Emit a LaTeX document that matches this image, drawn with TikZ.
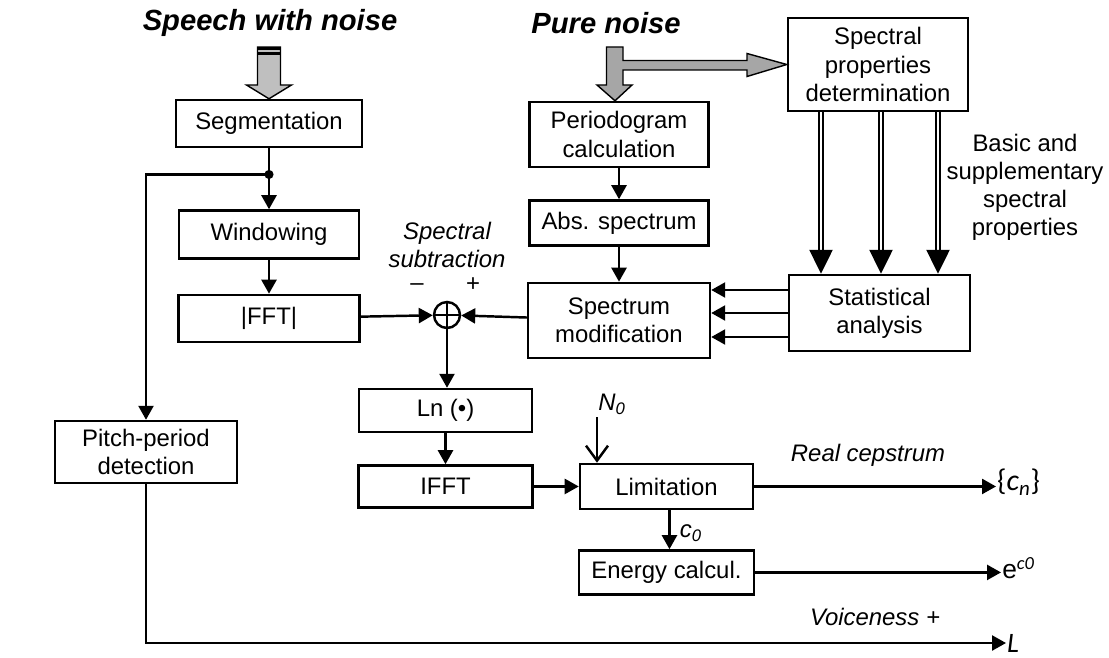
\documentclass[tikz,border=0pt]{standalone}
\usepackage{fontspec}
\setmainfont{Liberation Sans}
\newfontfamily\calfont{Carlito}
\usetikzlibrary{arrows.meta,positioning,calc}
\tikzset{
  >={Triangle[length=2.8mm, width=3mm]},
  blk/.style={draw, rectangle, align=center, inner sep=1pt, font=\fontsize{13.6}{16}\selectfont},
  lbl/.style={align=center, inner sep=1pt, font=\fontsize{13.6}{16}\selectfont\itshape},
  note/.style={align=center, inner sep=1pt, font=\fontsize{13.6}{16}\selectfont},
  title/.style={inner sep=1pt, font=\fontsize{16.6}{19}\selectfont\bfseries\itshape},
  sumnode/.style={draw, circle, minimum size=5.2mm, inner sep=0pt},
  fat/.style={draw, line width=0.8pt, line join=miter},
  dbl/.style={double, double distance=1pt, line width=1.2pt, shorten >=4.7mm},
  bighead/.style={-{Triangle[length=4.8mm, width=4.6mm]}},
  opentip/.style={-{Straight Barb[length=3mm, width=4.4mm]}},
}

\begin{document}
\begin{tikzpicture}[line width=1.4pt]
  \useasboundingbox (0,0) rectangle (22.18,-13.14);

  % titles
  \node[title] (speech) at (5.40,-0.46) {Speech with noise};
  \node[title] (pure) at (12.12,-0.46) {Pure noise};

  % left chain
  \node[blk, minimum width=3.72cm, minimum height=0.94cm] (seg) at (5.38,-2.47) {Segmentation};
  \node[blk, minimum width=3.6cm, minimum height=0.96cm, below=1.22cm of seg] (win) {Windowing};
  \node[blk, minimum width=3.62cm, minimum height=0.94cm, below=0.68cm of win] (fft) {|FFT|};
  \node[blk, minimum width=3.64cm, minimum height=1.24cm] (pitch) at (2.92,-9.04) {Pitch-period\\detection};

  % noise chain
  \node[blk, minimum width=3.58cm, minimum height=1.3cm] (perio) at (12.38,-2.69) {Periodogram\\calculation};
  \node[blk, minimum width=3.58cm, minimum height=0.9cm, below=0.62cm of perio] (abs) {Abs. spectrum};
  \node[blk, minimum width=3.64cm, minimum height=1.5cm, below=0.7cm of abs] (mod) {Spectrum\\modification};
  \node[blk, minimum width=3.6cm, minimum height=1.86cm] (spd) at (17.56,-1.29) {Spectral\\properties\\determination};
  \node[blk, minimum width=3.62cm, minimum height=1.52cm] (stat) at (17.59,-6.26) {Statistical\\analysis};

  % cepstrum chain
  \node[sumnode] (sum) at (8.94,-6.30) {};
  \node[blk, minimum width=3.46cm, minimum height=0.86cm] (ln) at (8.91,-8.21) {Ln (\textbullet)};
  \node[blk, minimum width=3.48cm, minimum height=0.84cm, below=0.62cm of ln] (ifft) {IFFT};
  \node[blk, minimum width=3.46cm, minimum height=0.9cm, right=0.9cm of ifft] (lim) {Limitation};
  \node[blk, minimum width=3.5cm, minimum height=0.88cm, below=0.78cm of lim] (energy) {Energy calcul.};

  % labels
  \node[lbl] (subtr) at (8.94,-4.90) {Spectral\\subtraction};
  \node[note] (minus) at (8.34,-5.74) {--};
  \node[note] (plus) at (9.46,-5.70) {+};
  \node[note] (basic) at (20.50,-3.74) {Basic and\\supplementary\\spectral\\properties};
  \node[lbl] (nzero) at (12.24,-8.08) {N\textsubscript{0}};
  \node[lbl] (czero) at (13.82,-10.66) {c\textsubscript{0}};
  \node[lbl] (realc) at (17.36,-9.10) {Real cepstrum};
  \node[lbl] (voice) at (17.50,-12.34) {Voiceness +};
  \node[note, anchor=west, inner sep=0pt] (cn) at (19.92,-9.64) {{\calfont\fontsize{17}{19}\selectfont\{\textit{c}\textsubscript{\textit{n}}\}}};
  \node[note, anchor=west, inner sep=0pt] (ec) at (20.02,-11.36) {{\fontsize{15}{17}\selectfont e\textsuperscript{\calfont\itshape c0}}};
  \node[note, anchor=west, inner sep=0pt] (lout) at (20.12,-12.86) {{\calfont\fontsize{16}{18}\selectfont\itshape L}};

  % fat input arrows
  \draw[fat, fill=black!25] (5.15,-0.94) -- (5.61,-0.94) -- (5.61,-1.70) -- (5.83,-1.70)
    -- (seg.north) -- (4.93,-1.70) -- (5.15,-1.70) -- cycle;
  \fill (5.15,-0.94) rectangle (5.61,-1.00);
  \fill (5.15,-1.04) rectangle (5.61,-1.10);
  \draw[fat, fill=black!35] (12.13,-0.94) -- (12.46,-0.94) -- (12.46,-1.21) -- (14.94,-1.21)
    -- (14.94,-1.07) -- (spd.west) -- (14.94,-1.53) -- (14.94,-1.40) -- (12.46,-1.40)
    -- (12.46,-1.70) -- (12.64,-1.70) -- ($(perio.north)+(-0.08,0)$) -- (11.94,-1.70)
    -- (12.13,-1.70) -- cycle;

  % left connectors
  \coordinate (jn) at ($(seg.south)!0.43!(win.north)$);
  \draw[->] (seg) -- (win);
  \fill (jn) circle (2.6pt);
  \draw[->] (jn) -| (pitch.north);
  \draw[->] (win) -- (fft);
  \draw[->] (fft) -- (sum);
  \draw[line width=1.2pt] (sum.north) -- (sum.south) (sum.west) -- (sum.east);

  % noise connectors
  \draw[->] (perio) -- (abs);
  \draw[->] (abs) -- (mod);
  \draw[->] (mod) -- (sum);
  \foreach \dy [count=\i] in {0.46,0,-0.48} {
    \coordinate (s\i) at ($(stat.west)+(0,\dy)$);
    \draw[->] (s\i) -- (s\i -| mod.east);
  }
  \foreach \x in {16.42,17.62,18.76} {
    \coordinate (t) at (\x,0);
    \draw[dbl] (spd.south -| t) -- (stat.north -| t);
    \draw[bighead] ($(stat.north -| t)+(0,0.48)$) -- (stat.north -| t);
  }

  % cepstrum connectors
  \draw[->] (sum) -- (sum |- ln.north);
  \draw[->] (ln) -- (ifft);
  \draw[->] (ifft) -- (lim);
  \coordinate (nin) at (11.94,-8.34);
  \draw[opentip] (nin) -- (nin |- lim.north);
  \coordinate (lc) at ($(lim.south)+(0.06,0)$);
  \draw[->] (lc) -- (lc |- energy.north);
  \draw[->] (lim.east) -- (lim.east -| cn.west);
  \draw[->] (energy.east) -- (energy.east -| ec.west);
  \draw[->] (pitch.south) |- (lout.west);
\end{tikzpicture}
\end{document}
